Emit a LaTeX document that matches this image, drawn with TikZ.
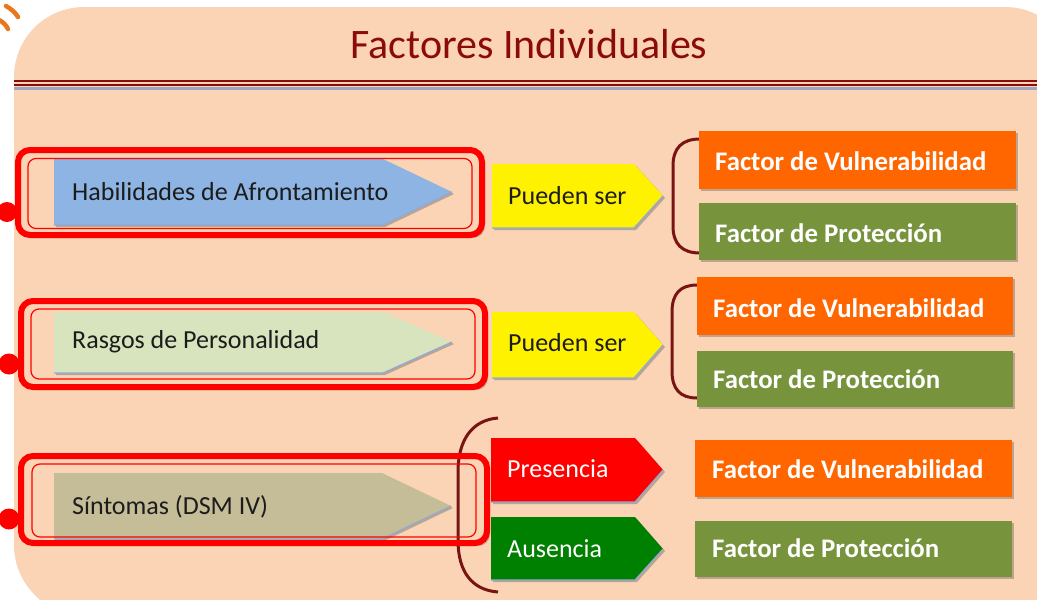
\documentclass[tikz,border=0pt]{standalone}
\usepackage{fontspec}
\setmainfont{Carlito}
\usetikzlibrary{shadows}
\definecolor{peach}{HTML}{FAD4B4}
\definecolor{maroon}{HTML}{8B0A0A}
\definecolor{brk}{HTML}{7A1414}
\definecolor{lineblue}{HTML}{9EA4C2}
\definecolor{arrblue}{HTML}{8DB4E2}
\definecolor{arrgreen}{HTML}{D7E4BD}
\definecolor{arrtan}{HTML}{C4BD97}
\definecolor{boxorange}{HTML}{FF6600}
\definecolor{boxolive}{HTML}{77933C}
\definecolor{presred}{HTML}{FF0000}
\definecolor{ausgreen}{HTML}{008000}
\definecolor{edgeblue}{HTML}{8EAADB}
\definecolor{txtdark}{HTML}{1C1C1C}
\definecolor{rssorange}{HTML}{E8771E}
\begin{document}
\begin{tikzpicture}[x=1pt,y=-1pt,
  shad/.style={drop shadow={shadow xshift=2pt,shadow yshift=-2pt,opacity=0.35,fill=black!70}},
  redbase/.style={fill=peach,rounded corners=12pt,drop shadow={shadow xshift=3pt,shadow yshift=-3pt,opacity=0.35,fill=black!70}},
  redbox/.style={draw=red,line width=6pt,rounded corners=12pt},
  innerbox/.style={draw=red,line width=1.2pt,rounded corners=8pt},
  reddot/.style={fill=red},
  arrowfill/.style={shad},
  arredge/.style={draw=edgeblue,line width=1.2pt},
  factbox/.style={shad},
  brace/.style={draw=brk,line width=3pt},
  lbl/.style={anchor=base west,inner sep=0pt,font=\fontsize{26}{30}\selectfont,text=txtdark},
  wlbl/.style={anchor=base west,inner sep=0pt,font=\fontsize{26}{30}\selectfont,text=white},
  flbl/.style={anchor=base west,inner sep=0pt,font=\fontsize{26.8}{30}\selectfont\bfseries,text=white},
  ttl/.style={anchor=base,inner sep=0pt,font=\fontsize{42}{46}\selectfont,text=maroon}
]
\useasboundingbox (0,0) rectangle (1037,600);
\begin{scope}
\clip (0,0) rectangle (1037,600);
% background panel
\path[fill=peach,rounded corners=70pt,drop shadow={shadow xshift=2pt,shadow yshift=-2pt,opacity=0.3}] (14,7) rectangle (1075,615);
% orange decoration
\draw[rssorange,line width=4.5pt,line cap=round] (6,6) .. controls (11,9) and (15,12) .. (18,17);
\draw[rssorange,line width=4.5pt,line cap=round] (-1,20) .. controls (3,22) and (6,25) .. (8,29);
% title lines
\draw[maroon,line width=2.3pt] (14,81.2) -- (1037,81.2);
\draw[maroon,line width=2pt] (14,85) -- (1037,85);
\draw[lineblue,line width=3pt] (14,88.8) -- (1037,88.8);
\end{scope}

\node[ttl] (title) at (529,58) {Factores Individuales};

% ---------- Row 1 ----------
\fill[reddot] (7,212) circle (10);
\path[redbase] (18,150) rectangle (482,235);
\path[fill=arrblue,arrowfill] (54,159) -- (383,159) -- (452,192) -- (383,225) -- (54,225) -- cycle;
\draw[arredge] (54,225) -- (383,225) -- (452,192);
\draw[redbox] (18,150) rectangle (482,235);
\draw[innerbox] (28,158.5) rectangle (472,228.5);
\node[lbl] (hab) at (72,200) {Habilidades de Afrontamiento};

\path[fill=yellow,arrowfill] (492,164) -- (634,164) -- (663,196) -- (634,228) -- (492,228) -- cycle;
\draw[arredge] (492,228) -- (634,228) -- (663,196);
\node[lbl] (pued1) at (508,204) {Pueden ser};

\draw[brace] (700,139) .. controls (682,139) and (673,148) .. (673,166) -- (673,226) .. controls (673,244) and (682,253) .. (700,253);
\path[fill=boxorange,factbox] (699,131) rectangle (1016,189);
\path[fill=boxolive,factbox] (699,203) rectangle (1016,260);
\node[flbl] (vul1) at (715,170) {Factor de Vulnerabilidad};
\node[flbl] (pro1) at (715,242) {Factor de Protección};

% ---------- Row 2 ----------
\fill[reddot] (9,364) circle (10.5);
\path[redbase] (21,301) rectangle (485,387);
\path[fill=arrgreen,arrowfill] (54,312) -- (383,312) -- (452,342) -- (383,373) -- (54,373) -- cycle;
\draw[arredge] (54,373) -- (383,373) -- (452,342);
\draw[redbox] (21,301) rectangle (485,387);
\draw[innerbox] (31,309) rectangle (475,379);
\node[lbl] (ras) at (72,348) {Rasgos de Personalidad};

\path[fill=yellow,arrowfill] (492,312) -- (634,312) -- (663,345) -- (634,378) -- (492,378) -- cycle;
\draw[arredge] (492,378) -- (634,378) -- (663,345);
\node[lbl] (pued2) at (508,351) {Pueden ser};

\draw[brace] (697,285) .. controls (680,285) and (672,294) .. (672,312) -- (672,371) .. controls (672,389) and (680,398) .. (697,398);
\path[fill=boxorange,factbox] (697,277) rectangle (1013,335);
\path[fill=boxolive,factbox] (697,351) rectangle (1013,407);
\node[flbl] (vul2) at (713,317) {Factor de Vulnerabilidad};
\node[flbl] (pro2) at (713,388) {Factor de Protección};

% ---------- Row 3 ----------
\fill[reddot] (9,519) circle (10.5);
\path[redbase] (21,456) rectangle (487,543);
\path[fill=arrtan,arrowfill] (54,473) -- (382,473) -- (451,506) -- (382,539) -- (54,539) -- cycle;
\draw[arredge] (54,539) -- (382,539) -- (451,506);
\draw[brace] (498,418) .. controls (472,420) and (458,440) .. (458,472) -- (458,540) .. controls (458,572) and (472,590) .. (498,592);
\draw[redbox] (21,456) rectangle (487,543);
\draw[innerbox] (32,464) rectangle (476,537);
\node[lbl] (sin) at (72,514) {Síntomas (DSM IV)};

\path[fill=presred,arrowfill] (491,438) -- (635,438) -- (663,470) -- (635,502) -- (491,502) -- cycle;
\draw[arredge] (491,502) -- (635,502) -- (663,470);
\node[wlbl] (pres) at (507,477) {Presencia};
\path[fill=ausgreen,arrowfill] (491,517) -- (635,517) -- (663,549) -- (635,580) -- (491,580) -- cycle;
\draw[arredge] (491,580) -- (635,580) -- (663,549);
\node[wlbl] (aus) at (507,557) {Ausencia};

\path[fill=boxorange,factbox] (695,440) rectangle (1012,497);
\path[fill=boxolive,factbox] (695,521) rectangle (1012,577);
\node[flbl] (vul3) at (712,478) {Factor de Vulnerabilidad};
\node[flbl] (pro3) at (712,557) {Factor de Protección};
\end{tikzpicture}
\end{document}
